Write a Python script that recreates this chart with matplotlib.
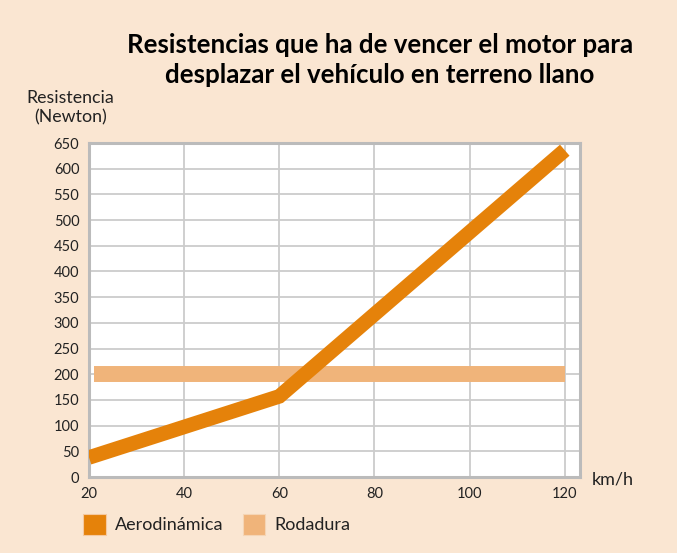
import matplotlib.pyplot as plt
from matplotlib.patches import Rectangle

# Data
speed = [20, 60, 120]
aero = [38, 157, 636]
rod_speed = [21, 120]
rodadura = [200, 200]
x_ticks = [20, 40, 60, 80, 100, 120]
y_ticks = list(range(0, 651, 50))

bg = '#FAE6D2'
c_aero = '#E5820A'
c_rod = '#F0B47A'
grid_c = '#CCCCCC'
font = 'Lato'

fig = plt.figure(figsize=(6.77, 5.53), dpi=100)
fig.patch.set_facecolor(bg)
ax = fig.add_axes([0.1315, 0.1374, 0.7252, 0.604])
ax.set_facecolor('white')

ax.plot(rod_speed, rodadura, color=c_rod, lw=11.5, solid_capstyle='butt', zorder=3)
ax.plot(speed, aero, color=c_aero, lw=10.5, solid_capstyle='butt',
        solid_joinstyle='miter', zorder=4)

ax.set_xlim(20, 123.2)
ax.set_ylim(0, 650)
ax.set_xticks(x_ticks)
ax.set_yticks(y_ticks)
ax.grid(True, color=grid_c, lw=1.3, zorder=1)
ax.tick_params(length=0, labelsize=10.5, colors='#222222', pad=7)
for lab in ax.get_xticklabels() + ax.get_yticklabels():
    lab.set_family(font)
for s in ax.spines.values():
    s.set_color('#BBBBBB')
    s.set_linewidth(2.2)

fig.text(0.561, 0.918, 'Resistencias que ha de vencer el motor para',
         ha='center', va='center', fontsize=18.6, fontweight='bold', family=font)
fig.text(0.561, 0.864, 'desplazar el vehículo en terreno llano',
         ha='center', va='center', fontsize=18.6, fontweight='bold', family=font)
fig.text(0.104, 0.805, 'Resistencia\n(Newton)', ha='center', va='center',
         fontsize=12.8, family=font, linespacing=1.2, color='#222222')
fig.text(0.905, 0.133, 'km/h', ha='center', va='center', fontsize=13,
         family=font, color='#222222')

# legend
fig.patches.append(Rectangle((83 / 677, 1 - 535 / 553), 23 / 677, 21 / 553,
                             transform=fig.transFigure, facecolor=c_aero,
                             edgecolor='#F5C9A0', lw=0.8))
fig.text(115 / 677, 1 - 525 / 553, 'Aerodinámica', ha='left', va='center',
         fontsize=13, family=font, color='#222222')
fig.patches.append(Rectangle((243 / 677, 1 - 535 / 553), 22 / 677, 21 / 553,
                             transform=fig.transFigure, facecolor=c_rod,
                             edgecolor='#F5D5B5', lw=0.8))
fig.text(274 / 677, 1 - 525 / 553, 'Rodadura', ha='left', va='center',
         fontsize=13, family=font, color='#222222')

fig.savefig('out.png', dpi=100, facecolor=bg)
